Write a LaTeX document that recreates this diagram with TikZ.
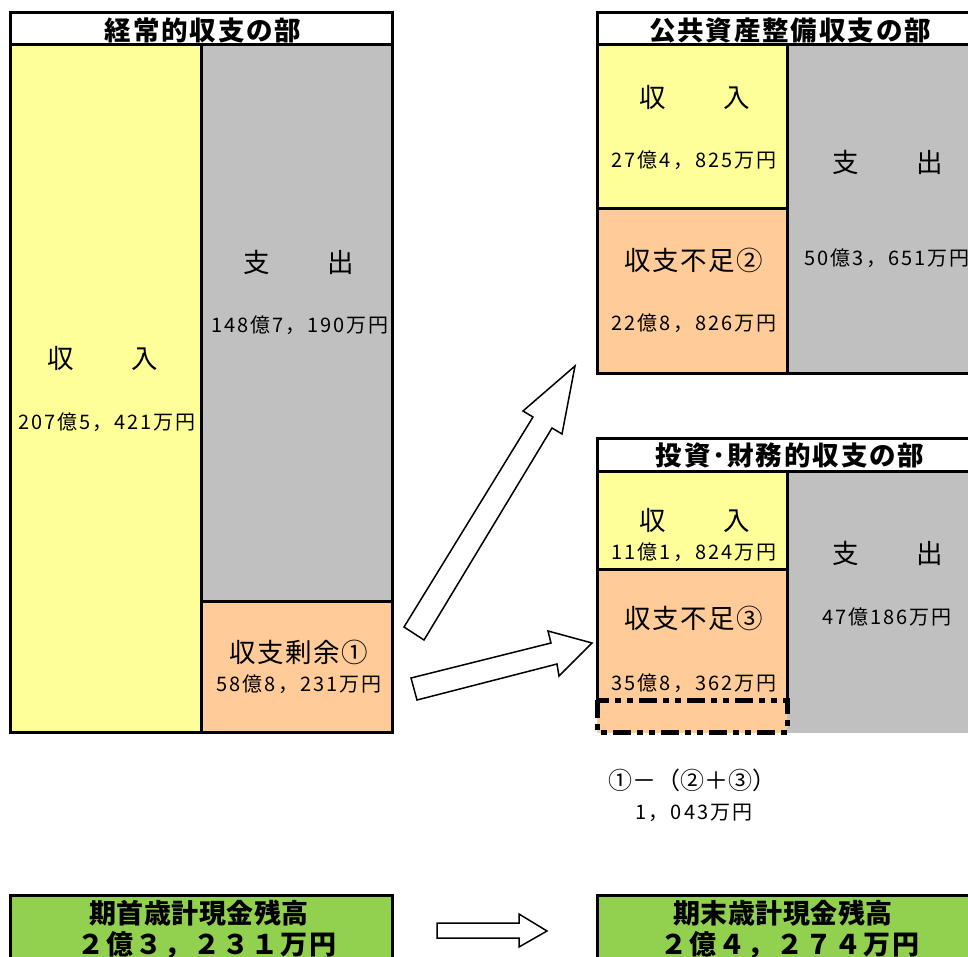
\documentclass[tikz,border=0pt]{standalone}
\usepackage{fontspec}
\setmainfont{Noto Sans CJK JP}
\definecolor{yel}{HTML}{FFFF99}
\definecolor{gry}{HTML}{C0C0C0}
\definecolor{org}{HTML}{FFCC99}
\definecolor{grn}{HTML}{92D050}
\tikzset{
  frame/.style={line width=3pt},
  ttl/.style={font=\fontsize{26.5}{28}\selectfont\bfseries\addfontfeature{LetterSpace=7}},
  lbl/.style={font=\fontsize{26.5}{28}\selectfont\addfontfeature{LetterSpace=6}},
  num/.style={font=\fontsize{20}{22}\selectfont\addfontfeature{LetterSpace=10}},
  gtxt/.style={font=\fontsize{27}{29}\selectfont\bfseries\addfontfeature{LetterSpace=2}},
  gnum/.style={font=\fontsize{27}{29}\selectfont\bfseries\addfontfeature{LetterSpace=7}},
  blockarrow/.style={draw, fill=white, line width=1.5pt, line join=miter},
  dashbox/.style={line width=5pt, dash pattern=on 18pt off 6pt on 6pt off 6pt on 6pt off 6pt}
}
\begin{document}
\begin{tikzpicture}[x=1pt,y=-1pt]
\useasboundingbox (0,0) rectangle (968,957);
\begin{scope}
\clip (0,0) rectangle (968,957);
% ---------- left block ----------
\fill[yel] (10,45) rectangle (201,732);
\fill[gry] (201,45) rectangle (392,601);
\fill[org] (201,601) rectangle (392,732);
\draw[frame] (10,13) rectangle (392,732);
\draw[frame] (10,45) -- (392,45);
\draw[frame] (201,45) -- (201,732);
\draw[frame] (201,601) -- (392,601);
\node[ttl] (t1) at (203,30) {経常的収支の部};
\node[lbl] (l1a) at (103,358) {収　　入};
\node[num] (l1b) at (107,422) {207億5，421万円};
\node[lbl] (l1c) at (299,262) {支　　出};
\node[num] (l1d) at (300,325) {148億7，190万円};
\node[lbl] (l1e) at (299,652) {収支剰余①};
\node[num] (l1f) at (299,684) {58億8，231万円};
% ---------- top right block ----------
\fill[yel] (597,45) rectangle (787,209);
\fill[org] (597,209) rectangle (787,373);
\fill[gry] (787,45) rectangle (975,373);
\draw[frame] (597,13) rectangle (975,373);
\draw[frame] (597,45) -- (975,45);
\draw[frame] (787,45) -- (787,373);
\draw[frame] (597,209) -- (787,209);
\node[ttl] (t2) at (790,30) {公共資産整備収支の部};
\node[lbl] (r1a) at (695,97) {収　　入};
\node[num] (r1b) at (694,160) {27億4，825万円};
\node[lbl] (r1c) at (888,162) {支　　出};
\node[lbl] (r1e) at (694,260) {収支不足②};
\node[num] (r1f) at (694,323) {22億8，826万円};
\node[num] (r1d) at (887,258) {50億3，651万円};
% ---------- middle right block ----------
\fill[yel] (597,471) rectangle (787,569);
\fill[org] (597,569) rectangle (787,733);
\fill[gry] (787,471) rectangle (975,733);
\draw[frame] (597,438) rectangle (975,471);
\draw[frame] (597,471) -- (597,700);
\draw[frame] (787,471) -- (787,700);
\draw[frame] (597,569) -- (787,569);
\draw[dashbox] (597,700) rectangle (787,732);
\node[ttl] (t3) at (790,455) {投資･財務的収支の部};
\node[lbl] (r2a) at (695,520) {収　　入};
\node[num] (r2b) at (694,552) {11億1，824万円};
\node[lbl] (r2c) at (888,553) {支　　出};
\node[lbl] (r2e) at (694,618) {収支不足③};
\node[num] (r2f) at (694,683) {35億8，362万円};
\node[num] (r2d) at (887,617) {47億186万円};
% ---------- balance ----------
\node[font=\fontsize{24}{26}\selectfont] (f1) at (692,780) {①－（②＋③）};
\node[num] (f2) at (694,813) {1，043万円};
% ---------- arrows ----------
\draw[blockarrow] (404,627) -- (533,417) -- (523,411) -- (575,366) -- (562,434) -- (552,428) -- (424,640) -- cycle;
\draw[blockarrow] (411,678) -- (551,643) -- (548,631) -- (592,643) -- (559,676) -- (557,664) -- (417,700) -- cycle;
\draw[blockarrow] (437,923) -- (519,923) -- (519,914) -- (547,931) -- (519,947) -- (519,938) -- (437,938) -- cycle;
% ---------- green boxes ----------
\draw[frame, fill=grn] (10,895) rectangle (392,970);
\draw[frame, fill=grn] (597,895) rectangle (975,970);
\node[gtxt] (g1) at (199,913) {期首歳計現金残高};
\node[gnum] (g2) at (207,945) {２億３，２３１万円};
\node[gtxt] (g3) at (783,913) {期末歳計現金残高};
\node[gnum] (g4) at (790,945) {２億４，２７４万円};
\end{scope}
\end{tikzpicture}
\end{document}
